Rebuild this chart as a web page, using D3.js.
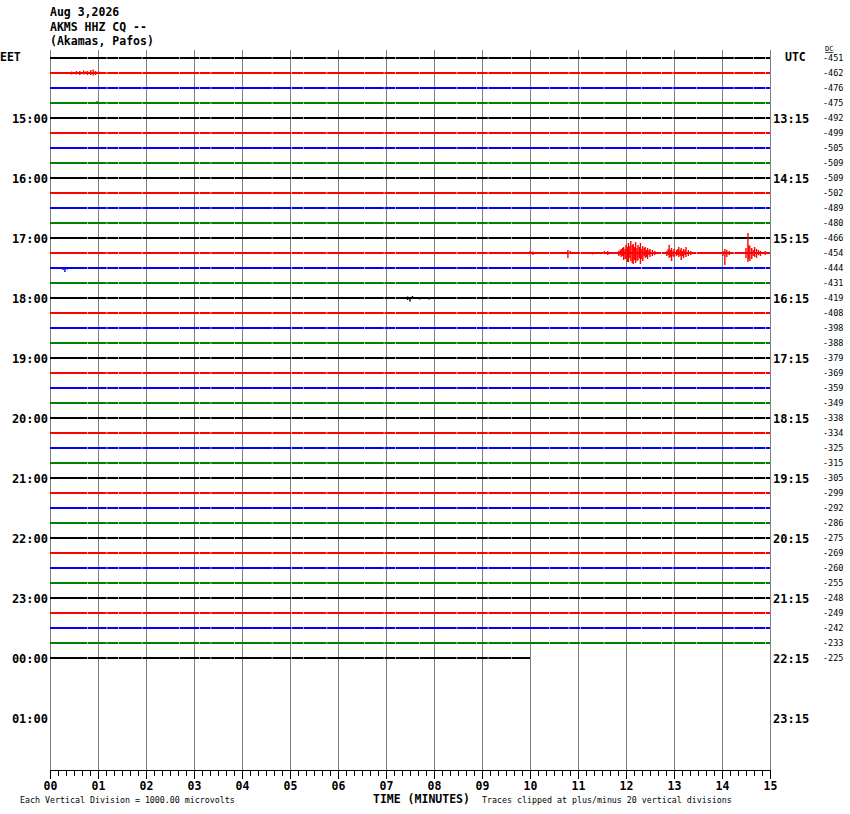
<!DOCTYPE html>
<html>
<head>
<meta charset="utf-8">
<script src="https://cdn.jsdelivr.net/npm/d3@7"></script>
<style>
  body { margin: 0; padding: 0; background: #fff; }
  text { font-family: 'DejaVu Sans Mono', monospace; }
</style>
</head>
<body>
<div id="main"></div>
<script>
// header
const headerLines = ['Aug 3,2026', 'AKMS HHZ CQ --', '(Akamas, Pafos)'];

// one trace per 15 minutes, rows 0..40; hour labels every 4th row
const rowColours = ['#000000', '#ff0000', '#0000ff', '#007f00'];
const eetLabels = ['15:00', '16:00', '17:00', '18:00', '19:00', '20:00', '21:00', '22:00', '23:00', '00:00', '01:00'];
const utcLabels = ['13:15', '14:15', '15:15', '16:15', '17:15', '18:15', '19:15', '20:15', '21:15', '22:15', '23:15'];
const dcOffsets = [-451, -462, -476, -475, -492, -499, -505, -509, -509, -502, -489, -480, -466, -454, -444, -431,
    -419, -408, -398, -388, -379, -369, -359, -349, -338, -334, -325, -315, -305, -299, -292, -286,
    -275, -269, -260, -255, -248, -249, -242, -233, -225];
const lastTraceMinutes = 10;
const minuteTicks = ['00', '01', '02', '03', '04', '05', '06', '07', '08', '09', '10', '11', '12', '13', '14', '15'];

// visible wiggles: [row, minute, up, down] in vertical divisions
const spikes = [
    [1, 0.45, 1.5, 1.5], [1, 0.5, 1, 1], [1, 0.55, 2, 1.5], [1, 0.62, 2, 2], [1, 0.7, 2.5, 1.5], [1, 0.74, 1.5, 1],
    [1, 0.78, 2, 2], [1, 0.85, 3, 2], [1, 0.9, 3.5, 2.5], [1, 0.95, 2, 2], [1, 1.02, 1.5, 1],
    [3, 0.98, 2, 0.5],
    [13, 10.0, 2, 1], [13, 10.06, 1.5, 2], [13, 10.15, 1, 1], [13, 10.79, 3, 5], [13, 10.84, 2, 1],
    [13, 11.3, 1, 1.5], [13, 11.55, 2, 1], [13, 11.62, 2, 2],
    [13, 11.85, 2, 3], [13, 11.88, 3, 2], [13, 11.9, 4, 4], [13, 11.93, 5, 3], [13, 11.95, 6, 7], [13, 11.98, 4, 6],
    [13, 12.0, 8, 6], [13, 12.03, 6, 9], [13, 12.05, 10, 9], [13, 12.08, 7, 5],
    [13, 12.1, 12, 8], [13, 12.13, 8, 10], [13, 12.15, 9, 11], [13, 12.18, 6, 7], [13, 12.2, 11, 10],
    [13, 12.23, 5, 8], [13, 12.25, 8, 7], [13, 12.28, 6, 5], [13, 12.3, 10, 11], [13, 12.33, 4, 6],
    [13, 12.35, 7, 8], [13, 12.38, 5, 3], [13, 12.4, 6, 5], [13, 12.43, 3, 4], [13, 12.45, 5, 6],
    [13, 12.48, 3, 2], [13, 12.5, 4, 4], [13, 12.55, 3, 3], [13, 12.6, 2, 2],
    [13, 12.85, 2, 3], [13, 12.88, 4, 2], [13, 12.9, 8, 5], [13, 12.93, 3, 4], [13, 12.95, 5, 8], [13, 12.98, 2, 3],
    [13, 13.0, 4, 4], [13, 13.05, 3, 3], [13, 13.08, 4, 2],
    [13, 13.1, 6, 4], [13, 13.13, 3, 3], [13, 13.15, 5, 7], [13, 13.18, 2, 3], [13, 13.2, 4, 5], [13, 13.23, 3, 2],
    [13, 13.25, 6, 4], [13, 13.3, 3, 3], [13, 13.35, 2, 2],
    [13, 14.02, 2, 3], [13, 14.06, 4, 12], [13, 14.1, 3, 4], [13, 14.15, 2, 2],
    [13, 14.5, 5, 5], [13, 14.54, 20, 9], [13, 14.56, 8, 6], [13, 14.58, 7, 8], [13, 14.62, 5, 6], [13, 14.65, 3, 3],
    [13, 14.68, 6, 4], [13, 14.72, 4, 5], [13, 14.76, 3, 2], [13, 14.8, 2, 3], [13, 14.9, 2, 2],
    [14, 0.27, 1, 2], [14, 0.31, 1, 4], [14, 0.36, 1, 1.5],
    [16, 7.35, 1, 1], [16, 7.45, 1.5, 2], [16, 7.5, 1, 3.5], [16, 7.55, 2, 1], [16, 7.7, 1, 1.5], [16, 7.9, 1, 1.5]
];

const WIDTH = 850, HEIGHT = 814;
const svg = d3.select('#main').append('svg').attr('width', WIDTH).attr('height', HEIGHT);

const scaleX = d3.scaleLinear().domain([0, 15]).range([50, 770]);
const scaleRow = d3.scaleLinear().domain([0, 44]).range([58, 718]);
const scaleAmp = d3.scaleLinear().domain([-20, 20]).range([20, -20]).clamp(true);

// header text
svg.append('g').selectAll('text').data(headerLines).enter().append('text')
    .attr('x', 50).attr('y', (d, i) => 16 + i * 14.5)
    .attr('font-size', '11.5px').attr('font-weight', 'bold').text((d) => d);

// minute grid
svg.append('g').selectAll('line').data(d3.range(0, 16)).enter().append('line')
    .attr('x1', (d) => scaleX(d) + 0.5).attr('x2', (d) => scaleX(d) + 0.5)
    .attr('y1', 50).attr('y2', 770)
    .attr('stroke', '#808080').attr('stroke-width', 1);

// traces
const rows = d3.range(0, dcOffsets.length);
const lineGen = d3.line().x((d) => scaleX(d[0])).y((d) => d[1]);
svg.append('g').selectAll('path').data(rows).enter().append('path')
    .attr('d', (r) => lineGen([[0, scaleRow(r)], [r === rows.length - 1 ? lastTraceMinutes : 15, scaleRow(r)]]))
    .attr('stroke', (r) => rowColours[r % 4]).attr('stroke-width', 2).attr('fill', 'none')
    .attr('stroke-dasharray', '37 0.6 19 0.6 11 0.6 23 0.6');

svg.append('g').selectAll('line').data(spikes).enter().append('line')
    .attr('x1', (d) => scaleX(d[1])).attr('x2', (d) => scaleX(d[1]))
    .attr('y1', (d) => scaleRow(d[0]) + scaleAmp(d[2]))
    .attr('y2', (d) => scaleRow(d[0]) + scaleAmp(-d[3]))
    .attr('stroke', (d) => rowColours[d[0] % 4]).attr('stroke-width', 1.4);

// time labels
svg.append('text').attr('x', 0).attr('y', 61).attr('font-size', '11.5px').attr('font-weight', 'bold').text('EET');
svg.append('text').attr('x', 785).attr('y', 61).attr('font-size', '11.5px').attr('font-weight', 'bold').text('UTC');
svg.append('g').selectAll('text').data(eetLabels).enter().append('text')
    .attr('x', 48).attr('y', (d, i) => scaleRow((i + 1) * 4) + 4.5).attr('text-anchor', 'end')
    .attr('font-size', '12px').attr('font-weight', 'bold').text((d) => d);
svg.append('g').selectAll('text').data(utcLabels).enter().append('text')
    .attr('x', 773).attr('y', (d, i) => scaleRow((i + 1) * 4) + 4.5)
    .attr('font-size', '12px').attr('font-weight', 'bold').text((d) => d);

// DC offsets
svg.append('g').selectAll('text').data(dcOffsets).enter().append('text')
    .attr('x', 823).attr('y', (d, i) => scaleRow(i) + 2.5)
    .attr('font-size', '8.5px').text((d) => d);
svg.append('text').attr('x', 825).attr('y', 51).attr('font-size', '7px').attr('text-decoration', 'underline').text('DC');

// bottom axis
const axis = svg.append('g').attr('transform', 'translate(0, 770)');
axis.append('line').attr('x1', 50).attr('x2', 770).attr('y1', 0.5).attr('y2', 0.5).attr('stroke', '#000');
axis.append('g').selectAll('line').data(d3.range(0, 91)).enter().append('line')
    .attr('x1', (d) => scaleX(d / 6) + 0.5).attr('x2', (d) => scaleX(d / 6) + 0.5)
    .attr('y1', 0).attr('y2', (d) => d % 6 === 0 ? 9 : 6)
    .attr('stroke', '#000').attr('stroke-width', 1);
axis.append('g').selectAll('text').data(minuteTicks).enter().append('text')
    .attr('x', (d, i) => scaleX(i) + 0.5).attr('y', 20).attr('text-anchor', 'middle')
    .attr('font-size', '11.5px').attr('font-weight', 'bold').text((d) => d);

svg.append('text').attr('x', 373).attr('y', 803).attr('font-size', '11.5px').attr('font-weight', 'bold').text('TIME (MINUTES)');
svg.append('text').attr('x', 20).attr('y', 803).attr('font-size', '8.3px').text('Each Vertical Division = 1000.00 microvolts');
svg.append('text').attr('x', 482).attr('y', 803).attr('font-size', '8.3px').text('Traces clipped at plus/minus 20 vertical divisions');
</script>
</body>
</html>
